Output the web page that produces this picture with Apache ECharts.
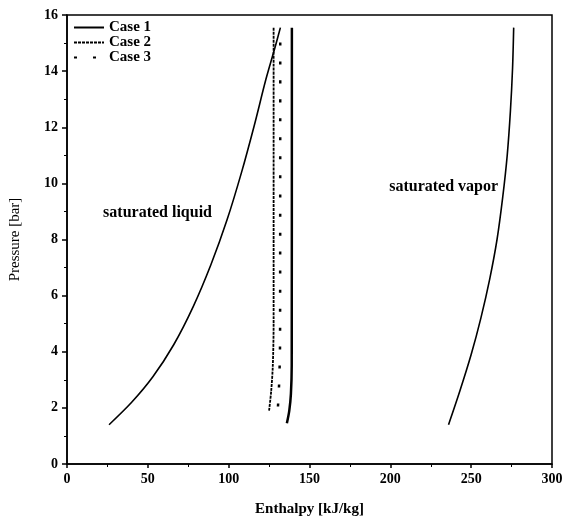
<!DOCTYPE html>
<html>
<head>
<meta charset="utf-8">
<script src="https://cdn.jsdelivr.net/npm/echarts@6/dist/echarts.min.js"></script>
<style>
  html, body { margin: 0; padding: 0; background: #fff; }
  #chart { width: 567px; height: 523px; }
</style>
</head>
<body>
<div id="chart"></div>
<script>
// enthalpy [kJ/kg], pressure [bar]
var satLiquid = [[26,1.4],[40,2.2],[53,3.1],[66,4.25],[78,5.6],[89,7.1],[99,8.7],[108,10.4],[116,12.1],[123,13.7],[128.7,14.85],[132,15.55]];
var satVapor = [[236,1.4],[243,2.6],[250,3.9],[256,5.2],[261.5,6.6],[266,8.0],[269.5,9.5],[272.3,11.0],[274.3,12.6],[275.6,14.1],[276.3,15.55]];
var case1 = [[136,1.45],[137.5,1.9],[138.5,2.5],[139,3.5],[139.1,15.55]];
var case2 = [[125,1.9],[126.3,2.6],[127.3,3.5],[127.8,5],[127.8,15.55]];
var case3 = [[130.5,2.05],[131.3,3],[131.8,4.5],[131.9,15.4]];
var labels = [
  { name: 'saturated liquid', value: [56, 8.95] },
  { name: 'saturated vapor', value: [233, 9.87] }
];
var xTicks = [0, 300, 50];
var yTicks = [0, 16, 2];

var font = '"Liberation Serif", "DejaVu Serif", serif';

var myChart = echarts.init(document.getElementById('chart'));
var option = {
  backgroundColor: '#fff',
  animation: false,
  grid: {
    left: 63, right: 15, top: 15, bottom: 59,
    show: true,
    borderColor: '#000',
    borderWidth: 1.5
  },
  legend: {
    data: ['Case 1', 'Case 2', 'Case 3'],
    orient: 'vertical',
    left: 68, top: 15,
    itemWidth: 30, itemHeight: 10,
    itemGap: 0,
    itemStyle: { color: 'transparent', borderColor: 'transparent', borderWidth: 0 },
    textStyle: { fontFamily: font, fontWeight: 'bold', fontSize: 15, color: '#000' }
  },
  xAxis: {
    type: 'value',
    min: xTicks[0], max: xTicks[1], interval: xTicks[2],
    name: 'Enthalpy [kJ/kg]',
    nameLocation: 'middle',
    nameGap: 38,
    nameTextStyle: { fontFamily: font, fontWeight: 'bold', fontSize: 15, color: '#000' },
    axisLine: { lineStyle: { color: '#000', width: 1.5 } },
    axisTick: { inside: false, length: 4, lineStyle: { color: '#000', width: 1.5 } },
    minorTick: { show: true, splitNumber: 2, length: 3, lineStyle: { color: '#000' } },
    axisLabel: { fontFamily: font, fontWeight: 'bold', fontSize: 14, color: '#000', margin: 8 },
    splitLine: { show: false }
  },
  yAxis: {
    type: 'value',
    min: yTicks[0], max: yTicks[1], interval: yTicks[2],
    name: 'Pressure [bar]',
    nameLocation: 'middle',
    nameGap: 44,
    nameTextStyle: { fontFamily: font, fontSize: 15, color: '#000' },
    axisLine: { lineStyle: { color: '#000', width: 1.5 } },
    axisTick: { inside: false, length: 5, lineStyle: { color: '#000', width: 1.5 } },
    minorTick: { show: true, splitNumber: 2, length: 3, lineStyle: { color: '#000' } },
    axisLabel: { fontFamily: font, fontWeight: 'bold', fontSize: 14, color: '#000', margin: 9 },
    splitLine: { show: false }
  },
  series: [
    {
      name: 'sat liquid', type: 'line', data: satLiquid, smooth: 0.3, symbol: 'none',
      lineStyle: { color: '#000', width: 1.6 }
    },
    {
      name: 'sat vapor', type: 'line', data: satVapor, smooth: 0.3, symbol: 'none',
      lineStyle: { color: '#000', width: 1.6 }
    },
    {
      name: 'Case 1', type: 'line', data: case1, smooth: 0.3, symbol: 'none',
      itemStyle: { color: '#000' },
      lineStyle: { color: '#000', width: 2.5 }
    },
    {
      name: 'Case 2', type: 'line', data: case2, smooth: 0.3, symbol: 'none',
      itemStyle: { color: '#000' },
      lineStyle: { color: '#000', width: 1.8, type: [3, 1] }
    },
    {
      name: 'Case 3', type: 'line', data: case3, smooth: 0.3, symbol: 'none',
      itemStyle: { color: '#000' },
      lineStyle: { color: '#000', width: 2.5, type: [3, 16] }
    },
    {
      name: 'labels', type: 'scatter', data: labels, symbolSize: 0, silent: true,
      itemStyle: { opacity: 1, color: '#000' },
      label: {
        show: true, position: 'inside', formatter: '{b}',
        fontFamily: font, fontWeight: 'bold', fontSize: 16, color: '#000'
      }
    }
  ]
};
myChart.setOption(option);
</script>
</body>
</html>
